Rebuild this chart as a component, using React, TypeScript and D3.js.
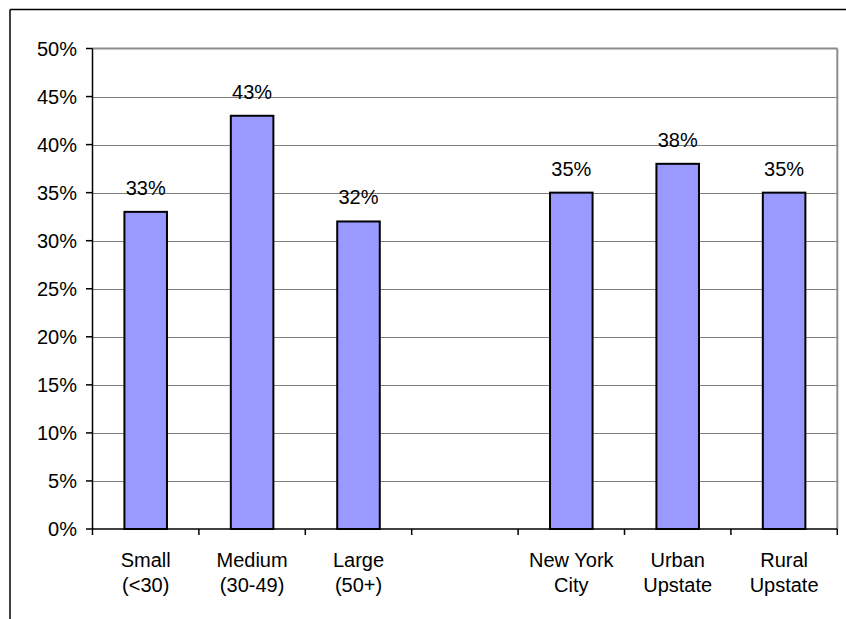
import React from "react";
import * as d3 from "d3";

const categories = ["small", "medium", "large", "gap", "nyc", "urban", "rural"];
const labelLine1 = ["Small", "Medium", "Large", "", "New York", "Urban", "Rural"];
const labelLine2 = ["(<30)", "(30-49)", "(50+)", "", "City", "Upstate", "Upstate"];
const values: (number | null)[] = [33, 43, 32, null, 35, 38, 35];
const yTicks = [0, 5, 10, 15, 20, 25, 30, 35, 40, 45, 50];

const W = 846;
const H = 619;
const left = 92.5;
const right = 837.3;
const top = 48.5;
const bottom = 529;
const font = "Liberation Sans, Arial, sans-serif";

export default function App() {
  const x = d3
    .scaleBand<string>()
    .domain(categories)
    .range([left, right])
    .paddingInner(0.6)
    .paddingOuter(0.3);
  const step = (right - left) / categories.length;
  const y = d3.scaleLinear().domain([0, 50]).range([bottom, top]);

  return (
    <svg
      width={W}
      height={H}
      style={{ position: "absolute", left: 0, top: 0, display: "block", background: "#fff" }}
      fontFamily={font}
    >
      <rect x={0} y={0} width={W} height={H} fill="#fff" />
      {/* outer frame */}
      <line x1={10} y1={9.5} x2={W} y2={9.5} stroke="#000" strokeWidth={1.5} />
      <line x1={10} y1={9.5} x2={10} y2={H} stroke="#000" strokeWidth={1.5} />

      {/* gridlines */}
      {yTicks.slice(1, -1).map((t) => (
        <line key={"g" + t} x1={left} x2={right} y1={Math.round(y(t)) + 0.5} y2={Math.round(y(t)) + 0.5} stroke="#808080" strokeWidth={1} />
      ))}
      {/* plot border (top/right) */}
      <line x1={left} x2={right} y1={top} y2={top} stroke="#8c8c8c" strokeWidth={2} />
      <line x1={right} x2={right} y1={top} y2={bottom} stroke="#8c8c8c" strokeWidth={2} />

      {/* bars */}
      {categories.map((c, i) => {
        const v = values[i];
        if (v == null) return null;
        const bx = x(c)!;
        const bw = x.bandwidth();
        return (
          <g key={c}>
            <rect x={bx} y={y(v)} width={bw} height={bottom - y(v)} fill="#9999FF" stroke="#000" strokeWidth={2} />
            <text x={bx + bw / 2} y={y(v) - 17} textAnchor="middle" fontSize={20} fill="#000">
              {v}%
            </text>
          </g>
        );
      })}

      {/* y axis */}
      <line x1={left} x2={left} y1={top} y2={bottom} stroke="#000" strokeWidth={1.5} />
      {yTicks.map((t) => (
        <g key={"y" + t}>
          <line x1={86} x2={left} y1={y(t)} y2={y(t)} stroke="#000" strokeWidth={1.5} />
          <text x={77} y={y(t) + 7} textAnchor="end" fontSize={20} fill="#000">
            {t}%
          </text>
        </g>
      ))}

      {/* x axis */}
      <line x1={left} x2={right} y1={bottom} y2={bottom} stroke="#000" strokeWidth={1.5} />
      {d3.range(categories.length + 1).map((i) => (
        <line key={"xt" + i} x1={left + i * step} x2={left + i * step} y1={bottom} y2={bottom + 6} stroke="#000" strokeWidth={1.5} />
      ))}
      {categories.map((c, i) => {
        const cx = x(c)! + x.bandwidth() / 2;
        return (
          <g key={"xl" + c}>
            <text x={cx} y={566.5} textAnchor="middle" fontSize={20} fill="#000">
              {labelLine1[i]}
            </text>
            <text x={cx} y={591.5} textAnchor="middle" fontSize={20} fill="#000">
              {labelLine2[i]}
            </text>
          </g>
        );
      })}
    </svg>
  );
}
